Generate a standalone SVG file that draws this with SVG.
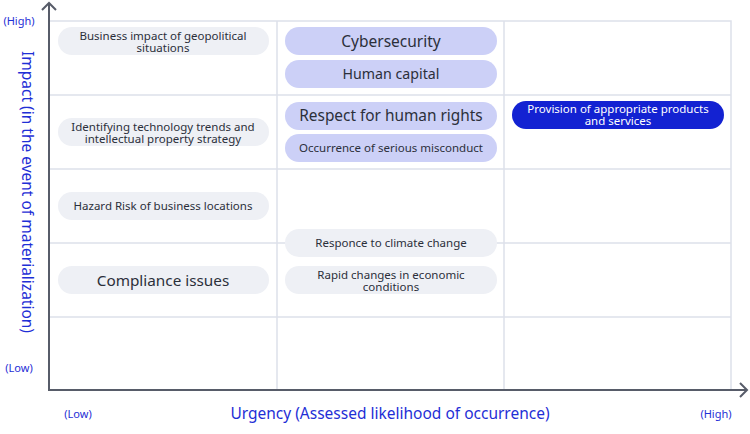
<svg xmlns="http://www.w3.org/2000/svg" width="750" height="434" viewBox="0 0 750 434">
<style>
text{font-family:"Noto Sans","Noto Sans CJK JP",sans-serif;text-anchor:middle}
.grid{stroke:#dde1ea;stroke-width:1.5;fill:none}
.axis{stroke:#575c69;stroke-width:2;fill:none}
.pg{fill:#eef0f5}
.pl{fill:#ccd0f7}
.pd{fill:#1322d2}
.t{fill:#2b2f3a}
.w{fill:#ffffff}
.s{font-size:11.5px}
.lab{fill:#1f2fd6}
</style>
<rect width="750" height="434" fill="#ffffff"/>
<g id="grid">
<rect class="grid" x="49" y="21" width="682" height="369"/>
<line class="grid" x1="277" y1="21" x2="277" y2="390"/>
<line class="grid" x1="504" y1="21" x2="504" y2="390"/>
<line class="grid" x1="49" y1="95" x2="731" y2="95"/>
<line class="grid" x1="49" y1="169" x2="731" y2="169"/>
<line class="grid" x1="49" y1="243" x2="731" y2="243"/>
<line class="grid" x1="49" y1="317" x2="731" y2="317"/>
</g>
<g id="axes">
<polyline class="axis" points="49,3 49,390 747,390"/>
<polyline class="axis" points="42,10 49,3 56,10"/>
<polyline class="axis" points="740,383 747,390 740,397"/>
</g>
<g id="labels">
<text class="lab" x="19" y="25" font-size="11">(High)</text>
<text class="lab" x="19" y="372" font-size="11">(Low)</text>
<text class="lab" x="78" y="418" font-size="11">(Low)</text>
<text class="lab" x="716" y="418" font-size="11">(High)</text>
<text class="lab" x="390" y="419" font-size="15.5">Urgency (Assessed likelihood of occurrence)</text>
<text class="lab" font-size="15.5" transform="translate(22,192) rotate(90)">Impact (in the event of materialization)</text>
</g>
<g id="n1"><rect class="pg" x="58" y="27" width="211" height="28" rx="14"/><text class="t s" x="163" y="39.5">Business impact of geopolitical</text><text class="t s" x="163" y="51.5">situations</text></g>
<g id="n2"><rect class="pg" x="58" y="118" width="211" height="28" rx="14"/><text class="t s" x="163" y="130.5">Identifying technology trends and</text><text class="t s" x="163" y="142.5">intellectual property strategy</text></g>
<g id="n3"><rect class="pg" x="58" y="192" width="211" height="28" rx="14"/><text class="t s" x="163" y="210">Hazard Risk of business locations</text></g>
<g id="n4"><rect class="pg" x="58" y="266" width="211" height="28" rx="14"/><text class="t" x="163" y="285.5" font-size="15.3">Compliance issues</text></g>
<g id="n5"><rect class="pl" x="285" y="27" width="212" height="28" rx="14"/><text class="t" x="391" y="46.5" font-size="15.5">Cybersecurity</text></g>
<g id="n6"><rect class="pl" x="285" y="60" width="212" height="28" rx="14"/><text class="t" x="391" y="78.5" font-size="14.2">Human capital</text></g>
<g id="n7"><rect class="pl" x="285" y="102" width="212" height="28" rx="14"/><text class="t" x="391" y="121" font-size="15.4">Respect for human rights</text></g>
<g id="n8"><rect class="pl" x="285" y="134" width="212" height="28" rx="14"/><text class="t s" x="391" y="152">Occurrence of serious misconduct</text></g>
<g id="n9"><rect class="pd" x="512" y="101" width="212" height="28" rx="14"/><text class="w s" x="618" y="113">Provision of appropriate products</text><text class="w s" x="618" y="125">and services</text></g>
<g id="n10"><rect class="pg" x="285" y="229" width="212" height="28" rx="14"/><text class="t s" x="391" y="247">Responce to climate change</text></g>
<g id="n11"><rect class="pg" x="285" y="266" width="212" height="28" rx="14"/><text class="t s" x="391" y="278.5">Rapid changes in economic</text><text class="t s" x="391" y="290.5">conditions</text></g>
</svg>
